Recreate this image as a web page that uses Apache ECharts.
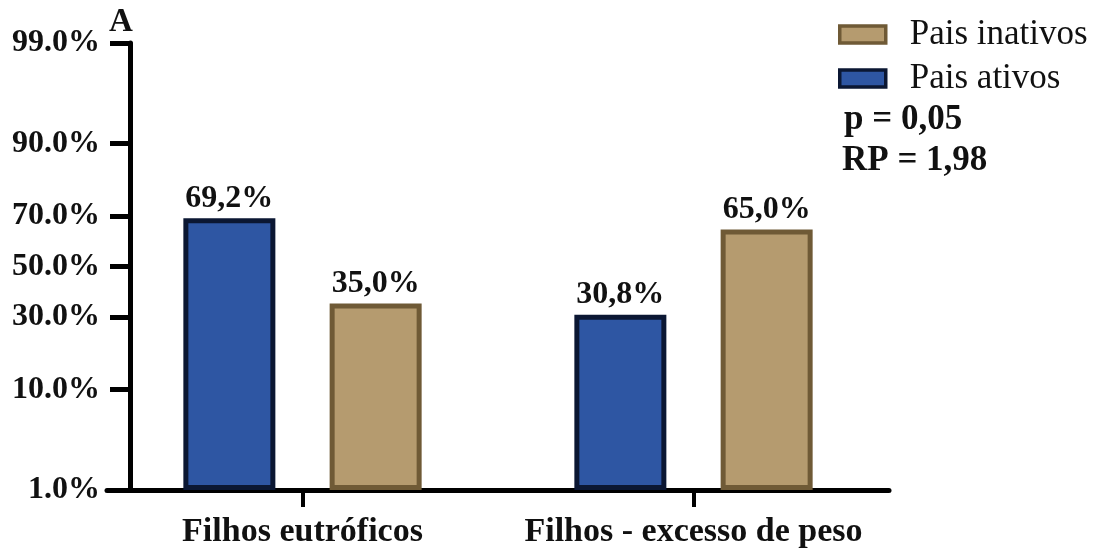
<!DOCTYPE html>
<html>
<head>
<meta charset="utf-8">
<script src="https://cdn.jsdelivr.net/npm/echarts@6/dist/echarts.min.js"></script>
<style>
  html, body { margin: 0; padding: 0; background: #fff; }
  #chart { width: 1114px; height: 551px; }
</style>
</head>
<body>
<div id="chart"></div>
<script>
// dados
const categories = ['Filhos eutróficos', 'Filhos - excesso de peso'];
const ativos = [69.2, 30.8];
const inativos = [35.0, 65.0];
const tickValues = [1, 10, 30, 50, 70, 90, 99];
const tickLabels = ['1.0%', '10.0%', '30.0%', '50.0%', '70.0%', '90.0%', '99.0%'];

// inversa da normal (Acklam) - eixo de probabilidade
function probit(p) {
  const a = [-3.969683028665376e+01, 2.209460984245205e+02, -2.759285104469687e+02, 1.383577518672690e+02, -3.066479806614716e+01, 2.506628277459239e+00];
  const b = [-5.447609879822406e+01, 1.615858368580409e+02, -1.556989798598866e+02, 6.680131188771972e+01, -1.328068155288572e+01];
  const c = [-7.784894002430293e-03, -3.223964580411365e-01, -2.400758277161838e+00, -2.549732539343734e+00, 4.374664141464968e+00, 2.938163982698783e+00];
  const d = [7.784695709041462e-03, 3.224671290700398e-01, 2.445134137142996e+00, 3.754408661907416e+00];
  const pl = 0.02425;
  let q, r;
  if (p < pl) {
    q = Math.sqrt(-2 * Math.log(p));
    return (((((c[0] * q + c[1]) * q + c[2]) * q + c[3]) * q + c[4]) * q + c[5]) / ((((d[0] * q + d[1]) * q + d[2]) * q + d[3]) * q + 1);
  }
  if (p > 1 - pl) {
    q = Math.sqrt(-2 * Math.log(1 - p));
    return -(((((c[0] * q + c[1]) * q + c[2]) * q + c[3]) * q + c[4]) * q + c[5]) / ((((d[0] * q + d[1]) * q + d[2]) * q + d[3]) * q + 1);
  }
  q = p - 0.5;
  r = q * q;
  return (((((a[0] * r + a[1]) * r + a[2]) * r + a[3]) * r + a[4]) * r + a[5]) * q / (((((b[0] * r + b[1]) * r + b[2]) * r + b[3]) * r + b[4]) * r + 1);
}
const base = probit(0.01);
const tf = v => probit(v / 100) - base; // 1% -> 0
const tickPos = tickValues.map(tf);

const serif = '"Liberation Serif", "Times New Roman", serif';
const fmtPct = v => v.toFixed(1).replace('.', ',') + '%';

const chart = echarts.init(document.getElementById('chart'));

const barLabel = {
  show: true,
  position: 'top',
  distance: 4,
  fontFamily: serif,
  fontWeight: 'bold',
  fontSize: 32,
  color: '#111'
};

chart.setOption({
  backgroundColor: '#fff',
  animation: false,
  grid: { left: 107, width: 782, top: 43, bottom: 61 },
  legend: {
    data: ['Pais inativos', 'Pais ativos'],
    orient: 'vertical',
    left: 833,
    top: 12,
    itemWidth: 46,
    itemHeight: 17,
    itemGap: 9,
    icon: 'rect',
    itemStyle: { borderWidth: 3.5 },
    textStyle: { fontFamily: serif, fontSize: 35, color: '#111', padding: [0, 0, 0, 19] }
  },
  xAxis: {
    type: 'category',
    data: categories,
    axisLine: { lineStyle: { color: '#000', width: 5 } },
    axisTick: { show: true, interval: 0, alignWithLabel: true, length: 17, lineStyle: { color: '#000', width: 4 } },
    axisLabel: { interval: 0, hideOverlap: false, margin: 25, fontFamily: serif, fontWeight: 'bold', fontSize: 34, color: '#111' }
  },
  yAxis: {
    type: 'value',
    min: 0,
    max: tf(99),
    offset: -23,
    splitLine: { show: false },
    axisLine: { show: true, lineStyle: { color: '#000', width: 5 } },
    axisTick: { show: true, length: 20, customValues: tickPos, lineStyle: { color: '#000', width: 5 } },
    axisLabel: {
      customValues: tickPos,
      margin: 30,
      fontFamily: serif,
      fontWeight: 'bold',
      fontSize: 32,
      color: '#111',
      formatter: function (v) {
        let best = 0;
        tickPos.forEach((t, i) => { if (Math.abs(t - v) < Math.abs(tickPos[best] - v)) best = i; });
        return tickLabels[best];
      }
    }
  },
  series: [
    {
      name: 'Pais ativos',
      type: 'bar',
      barWidth: 92,
      barGap: '59%',
      data: ativos.map(tf),
      itemStyle: { color: '#2e56a3', borderColor: '#0b1733', borderWidth: 5 },
      label: { ...barLabel, formatter: p => fmtPct(ativos[p.dataIndex]) }
    },
    {
      name: 'Pais inativos',
      type: 'bar',
      barWidth: 92,
      barGap: '59%',
      data: inativos.map(tf),
      itemStyle: { color: '#b59b6f', borderColor: '#6f5a36', borderWidth: 5 },
      label: { ...barLabel, formatter: p => fmtPct(inativos[p.dataIndex]) }
    }
  ],
  graphic: [
    { type: 'text', left: 109, top: 6, style: { text: 'A', font: 'bold 33px ' + serif, fill: '#111' } },
    { type: 'text', left: 844, top: 102, style: { text: 'p = 0,05', font: 'bold 35px ' + serif, fill: '#111' } },
    { type: 'text', left: 842, top: 143, style: { text: 'RP = 1,98', font: 'bold 35px ' + serif, fill: '#111' } }
  ]
});
</script>
</body>
</html>
